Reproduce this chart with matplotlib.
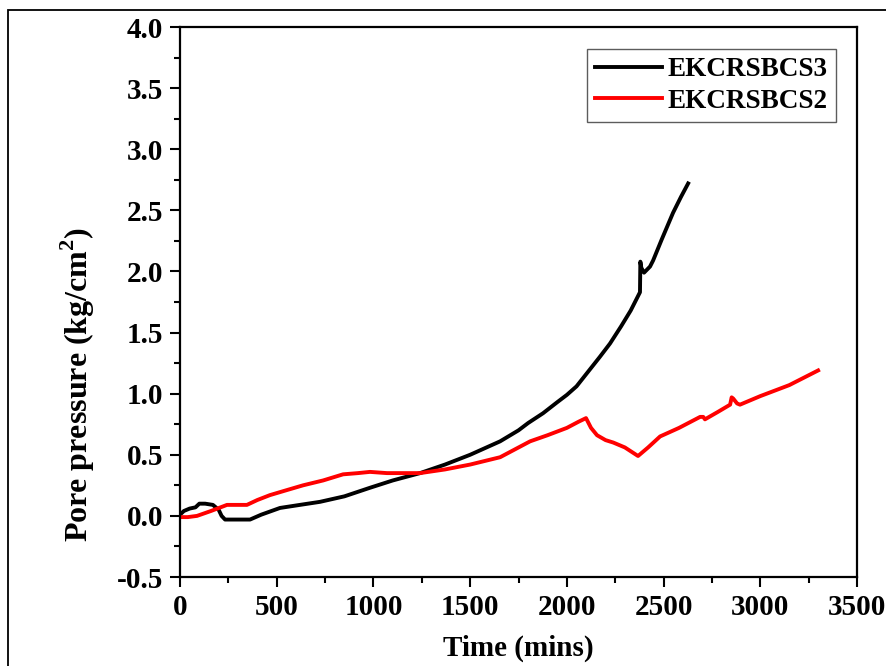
import matplotlib
matplotlib.use("Agg")
import matplotlib.pyplot as plt
from matplotlib.patches import Rectangle
from matplotlib.ticker import MultipleLocator

# EKCRSBCS3 (black)
t3 = [0, 20, 50, 80, 100, 130, 170, 200, 215, 233, 280, 330, 362, 420, 517, 620, 724,
      850, 982, 1100, 1241, 1370, 1500, 1655, 1750, 1800, 1877, 1950, 2000, 2050, 2120,
      2170, 2223, 2280, 2330, 2378, 2380, 2385, 2399, 2430, 2446, 2490, 2549, 2590, 2627]
p3 = [0.01, 0.04, 0.06, 0.07, 0.10, 0.10, 0.09, 0.05, 0.0, -0.03, -0.03, -0.03, -0.03,
      0.01, 0.065, 0.09, 0.115, 0.16, 0.23, 0.29, 0.35, 0.42, 0.50, 0.61, 0.70, 0.76,
      0.84, 0.93, 0.99, 1.06, 1.20, 1.30, 1.41, 1.55, 1.68, 1.83, 2.08, 2.03, 1.99, 2.04,
      2.09, 2.26, 2.48, 2.61, 2.72]

# EKCRSBCS2 (red)
t2 = [0, 40, 88, 160, 243, 300, 346, 400, 465, 550, 636, 740, 843, 920, 982, 1070, 1150,
      1241, 1370, 1500, 1655, 1810, 1900, 2000, 2060, 2099, 2125, 2156, 2200, 2240, 2300,
      2368, 2420, 2482, 2580, 2689, 2705, 2714, 2780, 2844, 2852, 2860, 2880, 2895, 3000,
      3150, 3299]
p2 = [-0.01, -0.01, 0.0, 0.04, 0.09, 0.09, 0.09, 0.13, 0.17, 0.21, 0.25, 0.29, 0.34,
      0.35, 0.36, 0.35, 0.35, 0.35, 0.38, 0.42, 0.48, 0.61, 0.66, 0.72, 0.77, 0.80, 0.72,
      0.66, 0.62, 0.60, 0.56, 0.49, 0.56, 0.65, 0.72, 0.81, 0.81, 0.79, 0.85, 0.91, 0.97,
      0.96, 0.92, 0.91, 0.98, 1.07, 1.19]

label3 = "EKCRSBCS3"
label2 = "EKCRSBCS2"
xticks = [0, 500, 1000, 1500, 2000, 2500, 3000, 3500]
yticks = [-0.5, 0.0, 0.5, 1.0, 1.5, 2.0, 2.5, 3.0, 3.5, 4.0]

plt.rcParams['font.family'] = ['Liberation Serif', 'DejaVu Serif']
plt.rcParams['font.weight'] = 'bold'
plt.rcParams['mathtext.fontset'] = 'custom'
plt.rcParams['mathtext.rm'] = 'Liberation Serif:bold'
plt.rcParams['mathtext.bf'] = 'Liberation Serif:bold'

fig = plt.figure(figsize=(8.86, 6.66), dpi=100)
fig.patch.set_facecolor('white')
# outer frame
fig.add_artist(Rectangle((8/886, -0.1), 1.2, 1 - 10/666 + 0.1, transform=fig.transFigure,
                         fill=False, edgecolor='black', linewidth=1.3))

ax = fig.add_axes([180/886, 1 - 577/666, (857-180)/886, (577-27)/666])
ax.plot(t3, p3, color='black', lw=2.8, label=label3, solid_joinstyle='round')
ax.plot(t2, p2, color='#ff0000', lw=2.8, label=label2, solid_joinstyle='round')

ax.set_xlim(0, 3500)
ax.set_ylim(-0.5, 4.0)
ax.set_xticks(xticks)
ax.set_yticks(yticks)
ax.set_xticklabels([str(v) for v in xticks])
ax.set_yticklabels([f"{v:.1f}" for v in yticks])
ax.xaxis.set_minor_locator(MultipleLocator(250))
ax.yaxis.set_minor_locator(MultipleLocator(0.25))
ax.tick_params(which='major', direction='out', length=7, width=1.5, labelsize=21, pad=5)
ax.tick_params(which='minor', direction='out', length=4, width=1.5)
ax.tick_params(top=False, right=False)
for s in ax.spines.values():
    s.set_linewidth(1.6)

ax.set_xlabel("Time (mins)", fontsize=21, fontweight='bold', labelpad=10)
ax.set_ylabel(r"Pore pressure (kg/cm$^{\mathbf{2}}$)", fontsize=23, fontweight='bold')
ax.yaxis.set_label_coords(-0.123, 0.35)

leg = ax.legend(loc='upper right', bbox_to_anchor=(0.969, 0.96), fontsize=19.5,
                frameon=True, fancybox=False, edgecolor='#333333', handlelength=2.5,
                borderpad=0.3, labelspacing=0.25, handletextpad=0.2, borderaxespad=0)
leg.get_frame().set_linewidth(1.0)

fig.savefig("out.png", dpi=100)
